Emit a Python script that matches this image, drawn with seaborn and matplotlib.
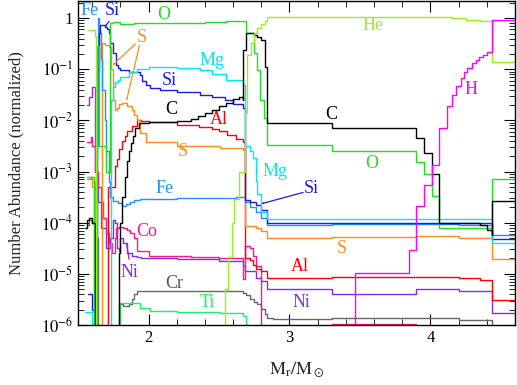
import numpy as np
import pandas as pd
import seaborn as sns
import matplotlib.pyplot as plt
from matplotlib.ticker import FixedLocator, MultipleLocator, FuncFormatter, NullFormatter

# abundance profiles, mass coordinate (Mr/Msun) and log10(number abundance), step-wise
h_m = [3.466, 3.466, 3.851, 3.901, 3.957, 4.014, 4.064, 4.121, 4.156, 4.184, 4.22, 4.241, 4.262, 4.298, 4.326, 4.348, 4.37, 4.40, 4.44, 4.6]
h_log = [-6.5, -4.98, -4.53, -3.67, -3.27, -2.88, -2.14, -1.71, -1.51, -1.33, -1.18, -1.06, -0.98, -0.88, -0.82, -0.76, -0.72, -0.67, -0.04, -0.04]

he_m = [1.57, 1.62, 1.625, 2.546, 2.567, 2.589, 2.61, 2.645, 2.685, 2.70, 2.73, 2.75, 2.77, 2.80, 2.823, 2.84, 3.5, 4.06, 4.15, 4.25, 4.35, 4.44, 4.44, 4.6]
he_log = [-0.23, -0.35, -6.5, -5.3, -4.67, -4.0, -3.53, -3.0, -1.86, -0.72, -0.49, -0.29, -0.2, -0.12, -0.05, 0.03, 0.03, 0.02, 0.0, -0.03, -0.06, -0.09, -0.86, -0.86]

c_m = [1.55, 1.565, 1.58, 1.60, 1.62, 1.79, 1.80, 1.815, 1.83, 1.845, 1.86, 1.875, 1.89, 1.905, 1.93, 2.0, 2.2, 2.3, 2.35, 2.4, 2.45, 2.5, 2.55, 2.6, 2.64, 2.667, 2.672, 2.695, 2.73, 2.75, 2.773, 2.80, 2.823, 2.844, 3.305, 3.90, 3.957, 4.014, 4.064, 4.35, 4.40, 4.44, 4.44, 4.6]
c_log = [-4.1, -3.95, -3.9, -4.0, -6.5, -4.6, -4.0, -3.5, -3.1, -2.8, -2.6, -2.45, -2.3, -2.15, -2.06, -2.04, -2.02, -1.98, -1.92, -1.86, -1.8, -1.72, -1.65, -1.58, -1.55, -1.6, -0.63, -0.29, -0.3, -0.33, -0.36, -0.43, -0.96, -2.06, -2.14, -2.35, -2.63, -3.04, -4.0, -4.05, -4.15, -4.25, -3.57, -3.57]

o_m = [1.56, 1.59, 1.61, 1.635, 1.65, 1.70, 1.728, 1.75, 1.8, 1.9, 2.0, 2.2, 2.4, 2.55, 2.645, 2.695, 2.75, 2.77, 2.79, 2.82, 2.84, 3.305, 3.90, 3.957, 4.014, 4.064, 4.44, 4.6]
o_log = [-3.15, -3.1, -6.5, -0.55, -2.5, -3.0, -0.1, -0.08, -0.12, -0.1, -0.1, -0.09, -0.07, -0.05, -0.06, -0.29, -0.69, -1.02, -1.61, -1.96, -2.49, -2.59, -2.82, -3.04, -3.47, -4.1, -3.14, -3.14]

mg_m = [1.55, 1.60, 1.70, 1.735, 1.745, 1.76, 1.78, 1.80, 1.86, 1.915, 2.0, 2.2, 2.362, 2.45, 2.55, 2.667, 2.688, 2.72, 2.74, 2.76, 2.77, 2.80, 2.844, 4.44, 4.44, 4.6]
mg_log = [-5.75, -6.5, -6.5, -1.6, -1.35, -1.25, -1.2, -1.15, -1.05, -1.0, -0.96, -0.97, -1.02, -1.1, -1.2, -1.31, -2.5, -2.6, -2.73, -3.18, -3.43, -3.8, -3.92, -3.92, -4.39, -4.39]

si_m = [1.57, 1.60, 1.625, 1.635, 1.645, 1.655, 1.69, 1.705, 1.716, 1.73, 1.745, 1.766, 1.78, 1.80, 1.858, 1.915, 1.94, 1.957, 1.98, 2.007, 2.078, 2.2, 2.362, 2.45, 2.54, 2.6, 2.667, 2.688, 2.72, 2.76, 2.80, 2.844, 4.44, 4.44, 4.6]
si_log = [-5.4, -5.7, -6.5, -1.0, -0.3, -0.14, -0.18, -0.22, -0.29, -0.49, -0.69, -0.92, -0.98, -1.02, -1.06, -1.06, -1.12, -1.22, -1.30, -1.37, -1.41, -1.45, -1.51, -1.55, -1.61, -1.68, -1.76, -3.55, -3.6, -3.65, -3.75, -4.0, -4.0, -4.31, -4.31]

s_m = [1.565, 1.60, 1.615, 1.667, 1.69, 1.72, 1.735, 1.745, 1.76, 1.775, 1.79, 1.81, 1.83, 1.85, 1.88, 1.9, 1.915, 1.936, 1.985, 2.2, 2.504, 2.667, 2.688, 2.76, 2.80, 2.844, 3.3, 3.9, 4.2, 4.44, 4.44, 4.6]
s_log = [-3.1, -3.3, -6.5, -0.49, -0.52, -0.57, -1.0, -1.6, -1.8, -1.75, -1.68, -1.65, -1.66, -1.72, -1.8, -1.9, -2.0, -2.25, -2.43, -2.5, -2.53, -2.57, -4.06, -4.1, -4.16, -4.29, -4.28, -4.27, -4.3, -4.33, -4.71, -4.71]

al_m = [1.71, 1.712, 1.76, 1.775, 1.79, 1.81, 1.83, 1.85, 1.88, 1.915, 1.95, 2.0, 2.2, 2.36, 2.45, 2.5, 2.56, 2.62, 2.667, 2.688, 2.72, 2.74, 2.76, 2.80, 2.844, 3.3, 3.9, 4.2, 4.35, 4.44, 4.44, 4.6]
al_log = [-6.5, -3.3, -2.9, -2.75, -2.55, -2.4, -2.3, -2.2, -2.1, -2.0, -2.02, -2.04, -2.08, -2.12, -2.16, -2.2, -2.28, -2.36, -2.43, -4.7, -4.73, -4.82, -4.9, -4.95, -5.08, -5.07, -5.06, -5.08, -5.12, -5.12, -5.51, -5.51]

fe_m = [1.615, 1.628, 1.638, 1.652, 1.66, 1.67, 1.688, 1.70, 1.716, 1.73, 1.745, 1.78, 1.81, 1.84, 1.87, 1.90, 1.94, 2.2, 2.5, 2.62, 2.688, 2.72, 2.76, 2.80, 2.844, 3.3, 3.9, 4.2, 4.44, 4.44, 4.6]
fe_log = [-6.5, -2.5, 0.0, -0.3, -0.8, -1.4, -2.0, -2.6, -3.2, -3.5, -3.57, -3.62, -3.67, -3.64, -3.6, -3.56, -3.53, -3.52, -3.51, -3.5, -3.6, -3.7, -3.8, -3.9, -4.04, -4.03, -4.03, -4.04, -4.05, -4.25, -4.25]

co_m = [1.565, 1.59, 1.60, 1.62, 1.64, 1.66, 1.68, 1.70, 1.72, 1.74, 1.76, 1.77, 1.79, 1.82, 1.85, 1.87, 1.9, 1.915, 2.0, 2.3, 2.5, 2.62, 2.667, 2.688, 2.72, 2.74, 2.76, 2.80, 2.80]
co_log = [-2.42, -2.33, -2.5, -3.0, -3.3, -3.6, -3.9, -4.2, -4.4, -4.6, -4.3, -4.1, -4.08, -4.1, -4.15, -4.2, -4.3, -4.55, -4.65, -4.67, -4.69, -4.7, -5.1, -4.45, -4.5, -4.65, -4.85, -6.5, -6.5]
co_env_m = [3.305, 3.90]
co_env_log = [-5.985, -5.985]

ni_m = [1.565, 1.58, 1.60, 1.62, 1.64, 1.66, 1.70, 1.73, 1.745, 1.76, 1.775, 1.79, 1.80, 1.82, 1.85, 1.88, 1.915, 1.95, 2.2, 2.5, 2.667, 2.688, 2.76, 2.80, 2.844, 3.305, 3.9, 4.014, 4.2, 4.44, 4.44, 4.6]
ni_log = [-1.7, -1.55, -1.35, -3.0, -3.6, -4.1, -4.5, -4.3, -3.95, -4.0, -4.5, -4.55, -4.3, -4.4, -4.6, -4.65, -4.68, -4.7, -4.72, -4.75, -4.84, -4.94, -5.08, -5.15, -5.29, -5.39, -5.3, -5.29, -5.33, -5.37, -5.76, -5.76]

cr_m = [1.56, 1.58, 1.60, 1.62, 1.64, 1.79, 1.82, 1.86, 1.88, 1.9, 1.915, 2.0, 2.5, 2.667, 2.695, 2.72, 2.75, 2.77, 2.80, 2.823, 2.844, 2.88, 3.305, 3.9, 4.2, 4.44, 4.44]
cr_log = [-4.05, -3.95, -4.0, -4.3, -6.5, -5.6, -5.62, -5.6, -5.5, -5.4, -5.33, -5.33, -5.33, -5.37, -5.42, -5.5, -5.56, -5.6, -5.68, -5.78, -5.86, -5.88, -5.86, -5.86, -5.9, -5.95, -6.5]

ti_m = [1.56, 1.60, 1.62, 1.79, 1.80, 1.915, 1.936, 2.007, 2.2, 2.504, 2.667, 2.695, 2.70]
ti_log = [-3.1, -3.2, -6.5, -6.5, -5.57, -5.57, -5.67, -5.73, -5.75, -5.76, -5.82, -5.98, -6.5]

species = [
    (cr_m, cr_log, "#666666"),
    (ti_m, ti_log, "#22ee66"),
    (ni_m, ni_log, "#8a2be2"),
    (co_m, co_log, "#ff1493"),
    (co_env_m, co_env_log, "#ff1493"),
    (al_m, al_log, "#ff0000"),
    (s_m, s_log, "#ff8c1a"),
    (fe_m, fe_log, "#1e90ff"),
    (si_m, si_log, "#1a1aee"),
    (mg_m, mg_log, "#00e8f0"),
    (o_m, o_log, "#22dd22"),
    (c_m, c_log, "#000000"),
    (he_m, he_log, "#99ee22"),
    (h_m, h_log, "#ff00ff"),
]

# text labels: (text, Mr, log10 abundance, colour)
labels = [
    ("Fe", 1.582, 0.157, "#1e90ff"), ("Si", 1.745, 0.157, "#1a1aee"),
    ("O", 2.106, 0.078, "#22dd22"), ("S", 1.95, -0.373, "#ff8c1a"),
    ("Mg", 2.454, -0.82, "#00e8f0"), ("Si", 2.149, -1.22, "#1a1aee"),
    ("C", 2.163, -1.78, "#000000"), ("Al", 2.496, -1.98, "#ff0000"),
    ("S", 2.241, -2.61, "#ff8c1a"), ("Fe", 2.113, -3.33, "#1e90ff"),
    ("Co", 1.986, -4.18, "#ff1493"), ("Ni", 1.865, -4.98, "#8a2be2"),
    ("Cr", 2.184, -5.18, "#555555"), ("Ti", 2.418, -5.57, "#22ee66"),
    ("Mg", 2.90, -3.0, "#00e8f0"), ("Si", 3.156, -3.33, "#1a1aee"),
    ("He", 3.596, -0.137, "#99ee22"), ("C", 3.298, -1.88, "#000000"),
    ("O", 3.582, -2.84, "#22dd22"), ("H", 4.291, -1.39, "#ff00ff"),
    ("S", 3.369, -4.51, "#ff8c1a"), ("Al", 3.071, -4.86, "#ff0000"),
    ("Ni", 3.085, -5.57, "#8a2be2"),
]
# arrows: (start Mr, start log, end Mr, end log, colour)
arrows = [
    (1.74, 0.0, 1.688, -0.176, "#1a1aee"),
    (1.93, -0.45, 1.745, -0.92, "#ff8c1a"),
    (1.94, -0.47, 1.844, -1.61, "#ff8c1a"),
    (1.865, -4.80, 1.844, -4.41, "#8a2be2"),
    (3.12, -3.40, 2.801, -3.63, "#1a1aee"),
]
decades = [-6, -5, -4, -3, -2, -1, 0]

sns.set_theme(style="ticks")
plt.rcParams['font.family'] = ['Liberation Serif', 'DejaVu Serif']
plt.rcParams['mathtext.fontset'] = 'stix'

fig = plt.figure(figsize=(5.17, 3.85), dpi=100)
ax = fig.add_axes([0.151, 0.156, 0.845, 0.841])
ax.set_yscale("log")

for m, lg, col in species:
    d = pd.DataFrame({"m": m, "n": 10.0 ** np.array(lg)})
    sns.lineplot(data=d, x="m", y="n", ax=ax, color=col, lw=1.0,
                 drawstyle="steps-post", estimator=None, sort=False)

for txt, xm, lg, col in labels:
    ax.text(xm, 10.0 ** lg, txt, color=col, fontsize=13, ha="center", va="center")
for x0, y0, x1, y1, col in arrows:
    ax.annotate(" ", xy=(x1, 10.0 ** y1), xytext=(x0, 10.0 ** y0), fontsize=1,
                arrowprops=dict(arrowstyle="->", color=col, lw=0.9, shrinkA=0, shrinkB=0))

ax.set_xlim(1.5, 4.6)
ax.set_ylim(1e-6, 2.15)
ax.xaxis.set_major_locator(FixedLocator([2, 3, 4]))
ax.xaxis.set_minor_locator(MultipleLocator(0.2))
ax.yaxis.set_major_locator(FixedLocator([10.0 ** k for k in decades]))
ax.yaxis.set_minor_locator(FixedLocator([s * 10.0 ** k for k in decades for s in range(2, 10)]))
ax.yaxis.set_minor_formatter(NullFormatter())
ax.yaxis.set_major_formatter(FuncFormatter(
    lambda v, p: "1" if abs(np.log10(v)) < 1e-6 else r"$10^{%d}$" % round(np.log10(v))))

ax.tick_params(which="both", direction="in", top=True, right=True, colors="black", labelsize=12)
ax.tick_params(which="major", length=8, width=0.8)
ax.tick_params(which="minor", length=4, width=0.6)
for sp in ax.spines.values():
    sp.set_color("black")
    sp.set_linewidth(1.0)

ax.set_xlabel(r"$\mathrm{M_r/M_\odot}$", fontsize=13, labelpad=10)
ax.set_ylabel("Number Abundance (normalized)", fontsize=12, labelpad=12)
ax.grid(False)

fig.savefig("out.png", dpi=100)
